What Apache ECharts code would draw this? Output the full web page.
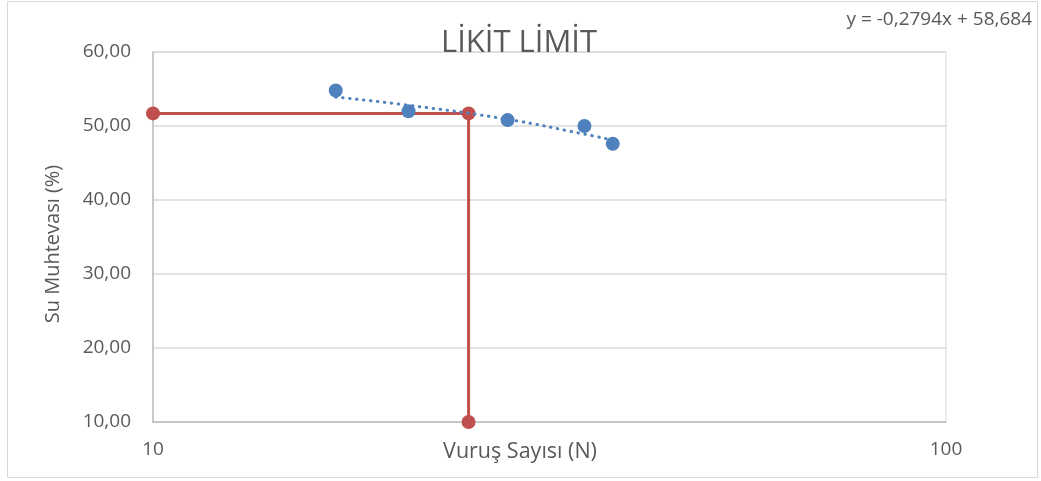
<!DOCTYPE html>
<html><head><meta charset="utf-8">
<script src="https://cdn.jsdelivr.net/npm/echarts@6/dist/echarts.min.js"></script>
<style>html,body{margin:0;padding:0;background:#fff}#c{width:1041px;height:481px}</style>
</head><body><div id="c"></div>
<script>
// Data
const blowCounts = [17, 21, 28, 35, 38];
const waterContent = [54.8, 52.0, 50.8, 50.0, 47.6];
const trendX = [17, 21, 28, 35, 38];
const trendY = [53.9, 52.8, 50.9, 48.9, 48.1];
const limitX = [10, 25, 25];
const limitY = [51.7, 51.7, 10];
const yTicks = [10, 20, 30, 40, 50, 60];
const xTicks = [10, 100];
const titleText = 'LİKİT LİMİT';
const equationText = 'y = -0,2794x + 58,684';
const xName = 'Vuruş Sayısı (N)';
const yName = 'Su Muhtevası (%)';

const FONT = '"Open Sans"';
const TXT = '#595959';
const chart = echarts.init(document.getElementById('c'), null, {renderer: 'canvas'});
chart.setOption({
  animation: false,
  backgroundColor: '#fff',
  graphic: [
    {type: 'rect', shape: {x: 7.5, y: 1.5, width: 1030, height: 476}, style: {fill: 'none', stroke: '#D9D9D9', lineWidth: 1}, z: -1},
    {type: 'text', z: 10, style: {x: 519, y: 43, text: titleText, align: 'center', verticalAlign: 'middle', font: '31px ' + FONT, fill: TXT}},
    {type: 'text', z: 10, style: {x: 1032, y: 20, text: equationText, align: 'right', verticalAlign: 'middle', font: '19px ' + FONT, fill: TXT}},
    {type: 'text', z: 10, style: {x: 520, y: 452, text: xName, align: 'center', verticalAlign: 'middle', font: '21.5px ' + FONT, fill: TXT}},
    {type: 'text', z: 10, rotation: Math.PI / 2, x: 53, y: 244, style: {x: 0, y: 0, text: yName, align: 'center', verticalAlign: 'middle', font: '20px ' + FONT, fill: TXT}}
  ],
  grid: {left: 153, top: 52, right: 95, bottom: 59, show: true, borderColor: '#D9D9D9', borderWidth: 1, containLabel: false},
  xAxis: {
    type: 'log', logBase: 10, min: xTicks[0], max: xTicks[xTicks.length - 1],
    axisLine: {show: true, lineStyle: {color: '#BFBFBF', width: 1.5}},
    axisTick: {show: false}, minorTick: {show: false},
    splitLine: {show: false},
    axisLabel: {fontFamily: FONT, fontSize: 19, color: TXT, margin: 18}
  },
  yAxis: {
    type: 'value', min: yTicks[0], max: yTicks[yTicks.length - 1], interval: 10,
    axisLine: {show: true, lineStyle: {color: '#BFBFBF', width: 1.5}},
    axisTick: {show: false},
    splitLine: {show: true, lineStyle: {color: '#D9D9D9', width: 1.5}},
    axisLabel: {fontFamily: FONT, fontSize: 19, color: TXT, margin: 22,
      formatter: v => v.toFixed(2).replace('.', ',')}
  },
  series: [
    {
      type: 'line', name: 'limit', data: limitX.map((x, i) => [x, limitY[i]]),
      symbol: 'circle', symbolSize: 14, clip: false,
      lineStyle: {color: '#C0504D', width: 3}, itemStyle: {color: '#C0504D'}, z: 3
    },
    {
      type: 'line', name: 'trend', data: trendX.map((x, i) => [x, trendY[i]]),
      showSymbol: false, symbol: 'none', smooth: true,
      lineStyle: {color: '#4F81BD', width: 3, type: [0.5, 6.5], cap: 'round'}, z: 4
    },
    {
      type: 'scatter', name: 'data', data: blowCounts.map((x, i) => [x, waterContent[i]]),
      symbol: 'circle', symbolSize: 14, itemStyle: {color: '#4F81BD', opacity: 1}, z: 5
    }
  ]
});
</script></body></html>
